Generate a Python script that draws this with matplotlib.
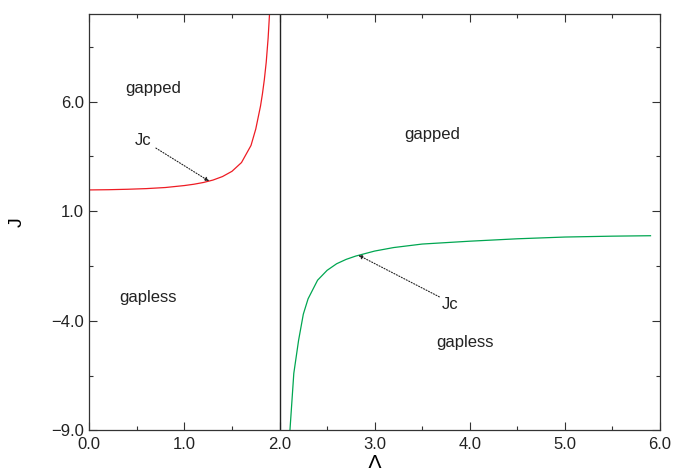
import matplotlib
matplotlib.use('Agg')
import matplotlib.pyplot as plt
from matplotlib.ticker import MultipleLocator, FuncFormatter

plt.rcParams['font.family'] = ['Liberation Sans', 'DejaVu Sans']

# red branch (left of Lambda = 2)
lam_red = [0.0, 0.2, 0.4, 0.6, 0.8, 1.0, 1.1, 1.2, 1.3, 1.4, 1.5, 1.6, 1.7, 1.75, 1.8, 1.82, 1.84, 1.86, 1.88, 1.9]
j_red = [1.97, 1.98, 2.0, 2.03, 2.08, 2.17, 2.23, 2.31, 2.42, 2.58, 2.82, 3.22, 4.0, 4.75, 5.8, 6.35, 7.0, 7.8, 8.9, 10.4]

# green branch (right of Lambda = 2)
lam_green = [2.1, 2.15, 2.2, 2.25, 2.3, 2.4, 2.5, 2.6, 2.7, 2.8, 3.0, 3.2, 3.5, 4.0, 4.5, 5.0, 5.5, 5.9]
j_green = [-9.6, -6.4, -4.9, -3.7, -3.0, -2.15, -1.7, -1.4, -1.2, -1.05, -0.82, -0.66, -0.5, -0.37, -0.26, -0.18, -0.14, -0.12]

lam_crit = 2.0

fig = plt.figure(figsize=(6.73, 4.68), dpi=100)
ax = fig.add_axes([0.1327, 0.0806, 0.848, 0.8895])

ax.plot(lam_red, j_red, color='#ee1c24', lw=0.9)
ax.plot(lam_green, j_green, color='#00a651', lw=0.9)
ax.axvline(lam_crit, color='#222222', lw=1.0)

ax.set_xlim(0, 6)
ax.set_ylim(-9, 10)
ax.xaxis.set_major_locator(MultipleLocator(1.0))
ax.xaxis.set_minor_locator(MultipleLocator(0.5))
ax.set_yticks([-9, -4, 1, 6])
ax.set_yticks([-6.5, -1.5, 3.5, 8.5], minor=True)
fmt = FuncFormatter(lambda v, p: ('%.1f' % v).replace('-', '\u2212'))
ax.xaxis.set_major_formatter(fmt)
ax.yaxis.set_major_formatter(fmt)
ax.tick_params(which='both', direction='in', top=True, right=True,
               labelsize=12, colors='#333333', labelcolor='#222222')
ax.tick_params(axis='x', pad=5)
ax.tick_params(axis='y', pad=4)
ax.tick_params(which='major', length=6, width=0.8)
ax.tick_params(which='minor', length=3, width=0.8)
for s in ax.spines.values():
    s.set_color('#333333')
    s.set_linewidth(0.9)

txt = dict(fontsize=12, color='#222222', ha='center', va='center')
ax.text(0.67, 6.62, 'gapped', **txt)
ax.text(3.61, 4.52, 'gapped', **txt)
ax.text(0.62, -2.93, 'gapless', **txt)
ax.text(3.95, -5.0, 'gapless', **txt)

arr = dict(arrowstyle='-|>', linestyle=(0, (1, 1.5)), lw=0.8, color='#222222',
           mutation_scale=6, shrinkA=0, shrinkB=0)
ax.text(0.565, 4.24, 'Jc', **txt)
ax.annotate('', xy=(1.26, 2.37), xytext=(0.70, 3.88), arrowprops=arr)
ax.text(3.79, -3.26, 'Jc', **txt)
ax.annotate('', xy=(2.83, -1.01), xytext=(3.68, -2.91), arrowprops=arr)

ax.set_xlabel('Λ', fontsize=15, labelpad=1)
ax.set_ylabel('J', fontsize=14, va='center')
ax.yaxis.set_label_coords(-0.126, 0.5)

fig.savefig('out.png', dpi=100)
